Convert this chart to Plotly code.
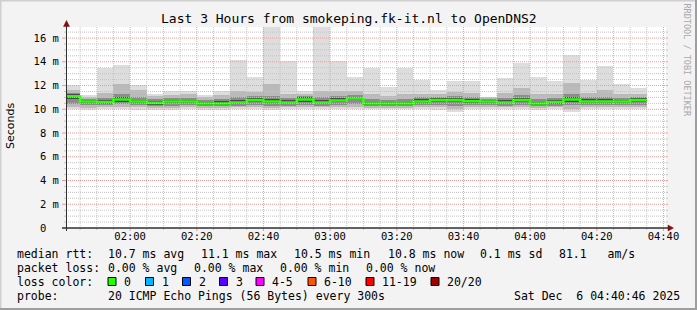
import plotly.graph_objects as go

# ---------------- data ----------------
DAY = "2025-12-06 "
bar_end = ["01:45", "01:50", "01:55", "02:00", "02:05", "02:10", "02:15", "02:20", "02:25",
           "02:30", "02:35", "02:40", "02:45", "02:50", "02:55", "03:00", "03:05", "03:10",
           "03:15", "03:20", "03:25", "03:30", "03:35", "03:40", "03:45", "03:50", "03:55",
           "04:00", "04:05", "04:10", "04:15", "04:20", "04:25", "04:30", "04:35"]
bar_start = ["01:40"] + bar_end[:-1]

# smoke (ms): min, 10%, 25%, 45%, median, 55%, 75%, 90%, max
rtt_min = [10.0, 9.9, 10.0, 10.0, 9.95, 9.95, 9.95, 10.0, 9.95, 9.95, 10.0, 10.0, 9.9, 10.0, 10.0, 10.0, 10.0, 10.0,
           10.0, 10.0, 10.0, 10.0, 9.95, 9.75, 10.0, 10.0, 10.0, 10.0, 9.95, 10.0, 9.8, 10.0, 10.0, 10.0, 10.0]
rtt_q10 = [10.2, 10.1, 10.15, 10.2, 10.15, 10.1, 10.1, 10.15, 10.1, 10.1, 10.15, 10.2, 10.1, 10.15, 10.2, 10.15, 10.15, 10.2,
           10.1, 10.1, 10.1, 10.15, 10.15, 10.0, 10.15, 10.15, 10.15, 10.2, 10.1, 10.15, 10.05, 10.15, 10.15, 10.15, 10.15]
rtt_q25 = [10.45, 10.35, 10.35, 10.45, 10.35, 10.3, 10.3, 10.35, 10.25, 10.25, 10.3, 10.4, 10.3, 10.3, 10.4, 10.3, 10.35, 10.45,
           10.25, 10.25, 10.25, 10.35, 10.4, 10.3, 10.35, 10.35, 10.3, 10.4, 10.25, 10.3, 10.35, 10.35, 10.35, 10.35, 10.4]
rtt_q45 = [10.85, 10.5, 10.45, 10.65, 10.5, 10.4, 10.5, 10.5, 10.35, 10.35, 10.42, 10.6, 10.5, 10.42, 10.65, 10.42, 10.58, 10.75,
           10.35, 10.35, 10.35, 10.5, 10.6, 10.6, 10.52, 10.5, 10.42, 10.6, 10.35, 10.45, 10.65, 10.5, 10.5, 10.5, 10.6]
median = [11.10, 10.65, 10.60, 10.82, 10.65, 10.54, 10.65, 10.65, 10.49, 10.49, 10.57, 10.77, 10.65, 10.57, 10.82, 10.57,
          10.74, 10.91, 10.49, 10.49, 10.49, 10.65, 10.77, 10.77, 10.68, 10.65, 10.57, 10.77, 10.49, 10.60, 10.82, 10.65,
          10.65, 10.65, 10.77]
rtt_q55 = [11.25, 10.8, 10.75, 11.0, 10.8, 10.7, 10.8, 10.8, 10.65, 10.68, 10.75, 10.95, 10.85, 10.75, 11.0, 10.8, 10.92, 11.05,
           10.65, 10.65, 10.65, 10.83, 10.93, 10.95, 10.85, 10.8, 10.75, 10.95, 10.65, 10.77, 11.0, 10.83, 10.83, 10.8, 10.93]
rtt_q75 = [11.4, 10.9, 10.95, 11.3, 11.0, 10.85, 10.95, 10.95, 10.8, 10.85, 11.0, 11.1, 11.1, 10.95, 11.1, 11.05, 11.1, 11.2,
           10.85, 10.8, 10.85, 11.0, 11.05, 11.1, 11.0, 10.9, 10.95, 11.2, 10.85, 10.95, 11.3, 11.0, 11.05, 10.95, 11.05]
rtt_q90 = [11.6, 11.05, 11.35, 12.1, 11.6, 11.1, 11.2, 11.25, 11.0, 11.2, 11.5, 11.45, 12.1, 11.3, 11.3, 11.5, 11.5, 11.5,
           11.3, 11.1, 11.3, 11.3, 11.3, 11.45, 11.35, 11.0, 11.4, 11.8, 11.3, 11.3, 12.2, 11.4, 11.6, 11.3, 11.3]
rtt_max = [12.06, 11.2, 13.47, 13.69, 12.06, 11.27, 11.5, 11.5, 11.2, 11.5, 14.17, 12.76, 17.5, 14.03, 11.58, 17.5, 14.03, 12.7,
           13.47, 11.9, 13.47, 12.48, 11.64, 12.34, 12.34, 11.07, 12.62, 13.89, 12.76, 12.34, 14.59, 12.48, 13.66, 12.1, 11.78]

y_tickvals = [0, 2, 4, 6, 8, 10, 12, 14, 16]
y_ticktext = ["0\u00a0\u00a0", "2 m", "4 m", "6 m", "8 m", "10 m", "12 m", "14 m", "16 m"]
x_ticktext = ["02:00", "02:20", "02:40", "03:00", "03:20", "03:40", "04:00", "04:20", "04:40"]

title = "Last 3 Hours from smokeping.fk-it.nl to OpenDNS2"
stats_rtt = ["median rtt:", "10.7 ms avg", "11.1 ms max", "10.5 ms min", "10.8 ms now", "0.1 ms sd", "81.1   am/s"]
stats_loss = ["packet loss:", "0.00 % avg", "0.00 % max", "0.00 % min", "0.00 % now"]
probe_line = ["probe:", "20 ICMP Echo Pings (56 Bytes) every 300s", "Sat Dec  6 04:40:46 2025"]
loss_labels = ["0", "1", "2", "3", "4-5", "6-10", "11-19", "20/20"]
loss_colors = ["#26ff00", "#00b8ff", "#0059ff", "#5e00ff", "#ff00ff", "#ff5500", "#ff0000", "#a10000"]

# ---------------- layout geometry ----------------
W, H = 697, 310
L, R, T, B = 66, 31, 27, 82
PW = W - L - R
PH = H - T - B
MONO = "DejaVu Sans Mono"


def px(x):
    return (x - L) / PW


def py(y):
    return (H - B - y) / PH


def ts(hm, sec="00"):
    return DAY + hm + ":" + sec


def tmid(hm_end):
    h, m = hm_end.split(":")
    total = int(h) * 60 + int(m)
    s = total * 60 - 150
    return DAY + "%02d:%02d:%02d" % (s // 3600, (s % 3600) // 60, s % 60)


xc = [tmid(e) for e in bar_end]

fig = go.Figure()

bands = [(rtt_min, rtt_max, "#dddddd"),
         (rtt_q10, rtt_q90, "#bababa"),
         (rtt_q25, rtt_q75, "#8c8c8c"),
         (rtt_q45, rtt_q55, "#4a4a4a")]
for lo, hi, col in bands:
    fig.add_trace(go.Bar(x=xc, base=lo, y=[h - l for h, l in zip(hi, lo)],
                         width=[300000] * len(xc), marker=dict(color=col, line=dict(width=0)),
                         hoverinfo="skip", showlegend=False))

fig.add_trace(go.Scatter(x=[ts(s) for s in bar_start] + [ts(bar_end[-1])],
                         y=median + [median[-1]], mode="lines",
                         line=dict(color=loss_colors[0], width=2.6, shape="hv"),
                         hoverinfo="skip", showlegend=False))

shapes = []


def seg(x0, y0, x1, y1, xref, yref, color, width=1, dash=None):
    d = dict(type="line", x0=x0, y0=y0, x1=x1, y1=y1, xref=xref, yref=yref,
             line=dict(color=color, width=width), layer="above")
    if dash:
        d["line"]["dash"] = dash
    shapes.append(d)


GRID = "#c4c4c4"
MGRID = "#ef9a9a"

# vertical grid every 5 minutes
for k in range(36):
    total = 105 + 5 * k
    hm = "%02d:%02d" % (total // 60, total % 60)
    major = (total % 20 == 0)
    col = MGRID if major else GRID
    seg(ts(hm), 0, ts(hm), 1, "x", "paper", col, dash="1px,1px")
    seg(ts(hm), py(228), ts(hm), py(231 if major else 230), "x", "paper", col)

# horizontal grid every 0.5 ms
for k in range(1, 34):
    v = k * 0.5
    major = (k % 4 == 0)
    col = MGRID if major else GRID
    seg(0, v, 1, v, "paper", "y", col, dash="1px,1px")
    seg(px(62 if major else 64), v, px(66), v, "paper", "y", col)
    seg(px(666), v, px(668), v, "paper", "y", col)

# axes
AX = "#303030"
ARROW = "#7f1010"
seg(px(66.5), py(231), px(66.5), py(25), "paper", "paper", AX, width=1)
seg(px(62), py(228), px(669), py(228), "paper", "paper", AX, width=1.5)
shapes.append(dict(type="path", xref="paper", yref="paper", layer="above",
                   path="M %f,%f L %f,%f L %f,%f Z" % (px(63.5), py(26.5), px(69.5), py(26.5), px(66.5), py(20.5)),
                   fillcolor=ARROW, line=dict(color=ARROW, width=0.5)))
shapes.append(dict(type="path", xref="paper", yref="paper", layer="above",
                   path="M %f,%f L %f,%f L %f,%f Z" % (px(668), py(225), px(668), py(231), px(673.5), py(228)),
                   fillcolor=ARROW, line=dict(color=ARROW, width=0.5)))

# frame (rrdtool shade)
shapes.append(dict(type="rect", xref="paper", yref="paper", x0=px(0), x1=px(W), y0=py(0), y1=py(1.5),
                   fillcolor="#cfcfcf", line=dict(width=0), layer="above"))
shapes.append(dict(type="rect", xref="paper", yref="paper", x0=px(0), x1=px(1.5), y0=py(0), y1=py(H),
                   fillcolor="#cfcfcf", line=dict(width=0), layer="above"))
shapes.append(dict(type="rect", xref="paper", yref="paper", x0=px(0), x1=px(W), y0=py(H - 2), y1=py(H),
                   fillcolor="#9e9e9e", line=dict(width=0), layer="above"))
shapes.append(dict(type="rect", xref="paper", yref="paper", x0=px(W - 2), x1=px(W), y0=py(0), y1=py(H),
                   fillcolor="#9e9e9e", line=dict(width=0), layer="above"))

annotations = []


def ann(text, x, y, size=11.5, xanchor="left", color="#000000", family=MONO, angle=0):
    annotations.append(dict(text=text.replace(" ", "\u00a0"), x=px(x), y=py(y), xref="paper", yref="paper",
                            xanchor=xanchor, yanchor="middle", showarrow=False, borderpad=0,
                            textangle=angle, font=dict(family=family, size=size, color=color)))


ann(title, 348.5, 19, size=13, xanchor="center")
ann("Seconds", 10.5, 126.5, size=11, xanchor="center", family="DejaVu Sans", angle=-90)
ann("RRDTOOL / TOBI OETIKER", 686.5, 60, size=8.5, xanchor="center", color="#a8a8a8", angle=90)

rtt_x = [16, 107.3, 200, 293, 386.7, 479.3, 558.3]
for t, x in zip(stats_rtt, rtt_x):
    ann(t, x, 254)
loss_x = [16, 107.3, 193.3, 279.3, 365]
for t, x in zip(stats_loss, loss_x):
    ann(t, x, 268)
ann("loss color:", 16, 282)
box_x = [108, 145.5, 182.5, 219.5, 256, 308, 366, 431]
for lab, col, bx in zip(loss_labels, loss_colors, box_x):
    shapes.append(dict(type="rect", xref="paper", yref="paper", x0=px(bx), x1=px(bx + 8),
                       y0=py(285.5), y1=py(277.5), fillcolor=col, line=dict(color="#000000", width=1),
                       layer="above"))
    ann(lab, bx + 15, 282)
probe_x = [16, 107.3, 513.3]
for t, x in zip(probe_line, probe_x):
    ann(t, x, 296.3)

fig.update_layout(
    width=W, height=H,
    margin=dict(l=L, r=R, t=T, b=B, pad=0),
    paper_bgcolor="#f3f3f3", plot_bgcolor="#ffffff",
    barmode="overlay", bargap=0,
    showlegend=False,
    shapes=shapes, annotations=annotations,
    xaxis=dict(type="date", range=[ts("01:40", "46"), ts("04:40", "46")],
               tickvals=[ts(t) for t in x_ticktext], ticktext=x_ticktext,
               showgrid=False, zeroline=False, showline=False,
               ticks="",
               tickfont=dict(family=MONO, size=10.5, color="#000000"), fixedrange=True),
    yaxis=dict(range=[0, 16.93], tickvals=y_tickvals, ticktext=y_ticktext,
               showgrid=False, zeroline=False, showline=False,
               ticks="outside", ticklen=4, tickcolor="rgba(0,0,0,0)",
               tickfont=dict(family=MONO, size=10.5, color="#000000"), fixedrange=True),
)

fig.write_html("out.html")
